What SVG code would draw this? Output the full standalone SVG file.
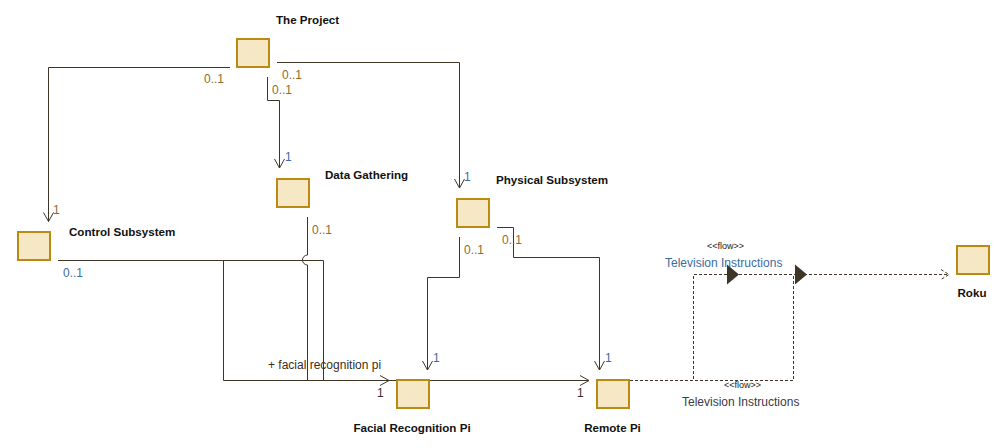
<svg xmlns="http://www.w3.org/2000/svg" width="1007" height="448" viewBox="0 0 1007 448">
<style>
.node rect{fill:#F6E8C4;stroke:#BA8A12;stroke-width:2}
.name{font-family:"Liberation Sans",Arial,sans-serif;font-size:11.6px;font-weight:bold;fill:#111}
.lbl{font-family:"Liberation Sans",Arial,sans-serif;font-size:12px}
.mo{fill:#8E6A2C}
.mb{fill:#3B6BA0}
.md{fill:#3A2E20}
.st{font-family:"Liberation Sans",Arial,sans-serif;font-size:9px;fill:#222}
.ln{fill:none;stroke:#3F3526;stroke-width:1}
.dash{stroke-dasharray:3,2}
.tri{fill:#3F3526}
</style>
<rect width="1007" height="448" fill="#fff"/>
<g id="connectors">
<path class="ln" d="M230,67.5 H48.5 V221.5"/>
<path class="ln" d="M43.5,212.5 L48.5,221.5 L53.5,212.5"/>
<path class="ln" d="M267.5,77 V100.5 H279.5 V168"/>
<path class="ln" d="M274.5,159 L279.5,168 L284.5,159"/>
<path class="ln" d="M277,62.5 H459.5 V188"/>
<path class="ln" d="M454.5,179 L459.5,188 L464.5,179"/>
<path class="ln" d="M58,260.5 H223.5 V380.5 H389"/>
<path class="ln" d="M58,260.5 H323.5 V380.5 H589"/>
<path class="ln" d="M380,375.5 L389,380.5 L380,385.5"/>
<path class="ln" d="M580,375.5 L589,380.5 L580,385.5"/>
<path class="ln" d="M307.5,217 V255 A5,5 0 0 0 307.5,265 V380.5"/>
<path class="ln" d="M459.5,237 V277.5 H427.5 V370"/>
<path class="ln" d="M422.5,361 L427.5,370 L432.5,361"/>
<path class="ln" d="M497,227.5 H513.5 V257.5 H599.5 V370"/>
<path class="ln" d="M594.5,361 L599.5,370 L604.5,361"/>
<path class="ln dash" d="M630,380.5 H693.5 V274.5 H948"/>
<path class="ln dash" d="M630,380.5 H793.5 V274.5 H948"/>
<path class="ln dash" d="M941,269.5 L949,274.5 L941,279.5"/>
<polygon class="tri" points="727,264.5 739,274.5 727,284.5"/>
<polygon class="tri" points="795,264.5 807,274.5 795,284.5"/>
<text class="lbl mo" x="204" y="83">0..1</text>
<text class="lbl mo" x="282" y="79">0..1</text>
<text class="lbl mo" x="272" y="94">0..1</text>
<text class="lbl mb" x="285" y="161">1</text>
<text class="lbl mb" x="464" y="181">1</text>
<text class="lbl mo" x="53" y="214">1</text>
<text class="lbl mb" x="63" y="277">0..1</text>
<text class="lbl mo" x="312" y="234">0..1</text>
<text class="lbl mo" x="464" y="254">0..1</text>
<text class="lbl mo" x="502" y="244">0..1</text>
<text class="lbl mb" x="433" y="362">1</text>
<text class="lbl mb" x="605" y="362">1</text>
<text class="lbl md" x="377" y="397">1</text>
<text class="lbl md" x="577" y="397">1</text>
<text class="lbl md" x="268" y="369">+ facial recognition pi</text>
<text class="st" x="707" y="249">&lt;&lt;flow&gt;&gt;</text>
<text class="lbl mb" x="665" y="267">Television Instructions</text>
<text class="st" x="724" y="388">&lt;&lt;flow&gt;&gt;</text>
<text class="lbl" x="682" y="406" fill="#3A3A4A">Television Instructions</text>
</g>
<g id="the-project" class="node"><rect x="237" y="39" width="32" height="28"/><text class="name" x="276" y="24">The Project</text></g>
<g id="control-subsystem" class="node"><rect x="18" y="232" width="32" height="28"/><text class="name" x="69" y="236">Control Subsystem</text></g>
<g id="data-gathering" class="node"><rect x="277" y="179" width="32" height="28"/><text class="name" x="325" y="179">Data Gathering</text></g>
<g id="physical-subsystem" class="node"><rect x="457" y="199" width="32" height="28"/><text class="name" x="496" y="184">Physical Subsystem</text></g>
<g id="facial-recognition-pi" class="node"><rect x="397" y="380" width="32" height="28"/><text class="name" x="412" y="432" text-anchor="middle">Facial Recognition Pi</text></g>
<g id="remote-pi" class="node"><rect x="597" y="380" width="32" height="28"/><text class="name" x="612.5" y="432" text-anchor="middle">Remote Pi</text></g>
<g id="roku" class="node"><rect x="957" y="246" width="32" height="28"/><text class="name" x="972" y="297" text-anchor="middle">Roku</text></g>
</svg>
